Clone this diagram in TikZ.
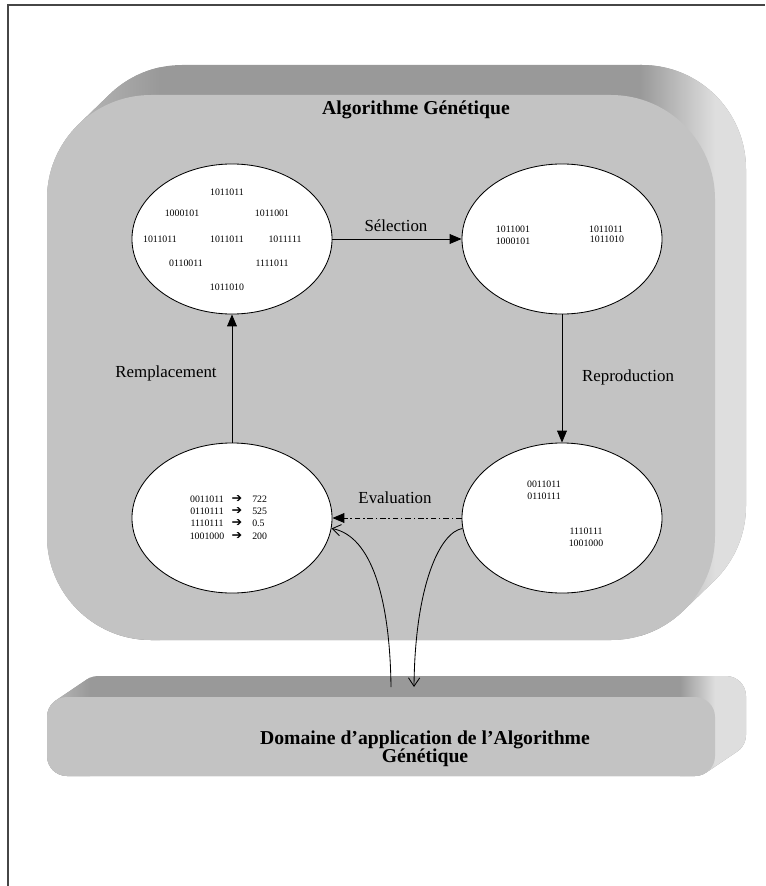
\documentclass[tikz,border=0pt]{standalone}
\usepackage{fontspec}
\setmainfont{Liberation Serif}
\newfontfamily\symfont{DejaVu Sans}
\usetikzlibrary{arrows.meta,shapes.geometric}
\definecolor{facegray}{RGB}{195,195,195}
\definecolor{topgray}{RGB}{153,153,153}
\definecolor{sidegray}{RGB}{222,222,222}
\definecolor{framegray}{RGB}{70,70,70}

\begin{document}
\begin{tikzpicture}[x=0.025cm, y=-0.025cm,
  pop/.style = {shape=ellipse, draw, fill=white, line width=0.6pt,
    minimum width=5cm, minimum height=3.75cm, inner sep=0pt},
  bits/.style = {inner sep=0pt, font=\fontsize{7}{8}\selectfont},
  lab/.style = {inner sep=0pt, font=\fontsize{12}{14}\selectfont},
  head/.style = {inner sep=0pt, align=center,
    font=\fontsize{14}{13}\selectfont\bfseries},
  flow/.style = {-{Triangle[length=8.5pt,width=7pt]}, line width=0.6pt},
  link/.style = {-{Straight Barb[length=6pt,width=8pt]}, line width=0.6pt}]
\useasboundingbox (0,0) rectangle (765,886);
\draw[framegray, line width=0.8pt] (8,886) -- (8,5) -- (765,5);

% genetic algorithm box
\begin{scope}
  \clip[rounded corners=2.6cm] foreach \k in {0,...,31}
    { ({47+\k},{95-\k*30/31}) rectangle ({715+\k},{640-\k*30/31}) };
  \fill[topgray] (40,40) rectangle (770,660);
  \shade[left color=facegray, right color=topgray] (40,40) rectangle (160,660);
  \shade[left color=topgray, right color=sidegray] (640,40) rectangle (715,660);
  \fill[sidegray] (715,40) rectangle (770,660);
\end{scope}
\fill[facegray, rounded corners=2.6cm] (47,95) rectangle (715,640);

% application domain box
\begin{scope}
  \clip[rounded corners=0.5cm] foreach \k in {0,...,31}
    { ({47+\k},{697-\k*21/31}) rectangle ({715+\k},{776-\k*21/31}) };
  \fill[topgray] (40,660) rectangle (770,800);
  \shade[left color=facegray, right color=topgray] (40,660) rectangle (90,800);
  \shade[left color=topgray, right color=sidegray] (680,660) rectangle (715,800);
  \fill[sidegray] (715,660) rectangle (770,800);
\end{scope}
\fill[facegray, rounded corners=0.5cm] (47,697) rectangle (715,776);

\node[head] (title) at (416,110) {Algorithme Génétique};
\node[head] (dom) at (425,749) {Domaine d’application de l’Algorithme\\Génétique};

\node[pop] (pool) at (232,239) {};
\node[pop] (sel) at (562,239) {};
\node[pop] (eval) at (232,518) {};
\node[pop] (kids) at (562,518) {};

\foreach \x/\y/\t [count=\i] in {227/192/1011011, 182/213/1000101,
    272/213/1011001, 160/239/1011011, 227/239/1011011, 285/239/1011111,
    186/263/0110011, 272/263/1111011, 227/287/1011010}
  \node[bits] (p\i) at (\x,\y) {\t};

\foreach \x/\y/\t [count=\i] in {513/229/1011001, 513/241/1000101,
    606/229/1011011, 607/239/1011010}
  \node[bits] (s\i) at (\x,\y) {\t};

\foreach \y/\t/\v [count=\i] in {499/0011011/722, 511/0110111/525,
    523/1110111/0.5, 536/1001000/200} {
  \node[bits] (c\i) at (207,\y) {\t};
  \node[bits, font=\fontsize{9}{9}\symfont] (a\i) at (237,\y) {➔};
  \node[bits, anchor=west] (f\i) at (252,\y) {\v};
}

\foreach \x/\y/\t [count=\i] in {544/484/0011011, 544/496/0110111,
    586/531/1110111, 586/543/1001000}
  \node[bits] (k\i) at (\x,\y) {\t};

\draw[flow] (pool) -- (sel);
\draw[flow] (sel) -- (kids);
\draw[flow] (eval) -- (pool);
\draw[flow, dash pattern=on 4pt off 2pt on 1pt off 2pt] (kids) -- (eval);

\node[lab] (lsel) at (396,226) {Sélection};
\node[lab] (lrep) at (628,377) {Reproduction};
\node[lab] (lrem) at (166,373) {Remplacement};
\node[lab] (leva) at (395,498) {Evaluation};

\coordinate (up) at (391,687);
\coordinate (down) at (414,687);
\draw[link] (up) .. controls (390,600) and (372,536) .. (eval.-6);
\draw[link] (kids.186) .. controls (440,532) and (415,585) .. (down);
\end{tikzpicture}
\end{document}
